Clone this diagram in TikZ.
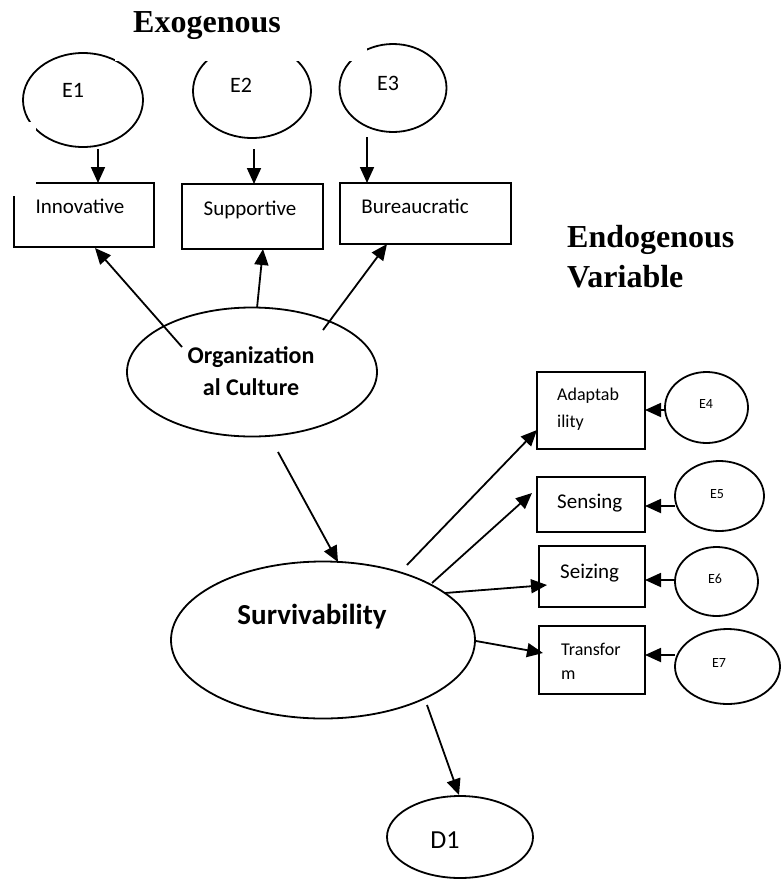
\documentclass[tikz,border=0pt]{standalone}
\usepackage{fontspec}
\setmainfont{Carlito}
\newfontfamily\tnr{Liberation Serif}
\usetikzlibrary{shapes.geometric,arrows.meta}
\newcommand\myfs[1]{\fontsize{#1}{#1}\selectfont}
\begin{document}
\begin{tikzpicture}[x=1pt,y=-1pt,
  ell/.style={draw, ellipse, line width=1.8pt, inner sep=0pt},
  box/.style={draw, rectangle, line width=1.8pt, inner sep=0pt},
  arr/.style={line width=1.8pt, -{Triangle[length=16pt,width=14pt]}},
  lab/.style={inner sep=0pt, anchor=base},
  labl/.style={inner sep=0pt, anchor=base west},
  title/.style={inner sep=0pt, anchor=base west, font=\tnr\bfseries\myfs{32}}]
\useasboundingbox (0,0) rectangle (781,879);

% error ellipses, top
\node[ell, minimum width=120pt, minimum height=94pt] (E1) at (83,100) {};
\node[ell, minimum width=118pt, minimum height=94pt] (E2) at (252,91) {};
\node[ell, minimum width=107pt, minimum height=88pt] (E3) at (393,88) {};

% indicator boxes, top
\node[box, minimum width=140pt, minimum height=64pt] (Inn) at (84,215) {};
\node[box, minimum width=141pt, minimum height=65pt] (Sup) at (252.5,216.5) {};
\node[box, minimum width=171pt, minimum height=61pt] (Bur) at (425.5,213.5) {};

% white covers as in the source
\fill[white] (115,0) rectangle (367,61);
\fill[white] (0,122) rectangle (36,196);

\node[lab, font=\tnr\bfseries\myfs{32}] (tExo) at (207,32) {Exogenous};
\node[title] (tEndo1) at (567,247) {Endogenous};
\node[title] (tEndo2) at (567,287) {Variable};

\node[lab, font=\myfs{22}] (tE1) at (73,97) {E1};
\node[lab, font=\myfs{22}] (tE2) at (241,92) {E2};
\node[lab, font=\myfs{22}] (tE3) at (388,90) {E3};

\node[lab, font=\myfs{21}] (tInn) at (80,213) {Innovative};
\node[lab, font=\myfs{21}] (tSup) at (250,215) {Supportive};
\node[lab, font=\myfs{21}] (tBur) at (415,213) {Bureaucratic};

% latent variables
\node[ell, minimum width=250pt, minimum height=129pt] (OC) at (252,372) {};
\node[lab, font=\bfseries\myfs{24}] (tOC1) at (251,363) {Organization};
\node[lab, font=\bfseries\myfs{24}] (tOC2) at (251,395) {al Culture};

\node[ell, minimum width=304pt, minimum height=157pt] (SV) at (323,640) {};
\node[lab, font=\bfseries\myfs{29}] (tSV) at (312,624) {Survivability};

\node[ell, minimum width=146pt, minimum height=82pt] (D1) at (460,837) {};
\node[lab, font=\myfs{26}] (tD1) at (445,848) {D1};

% right indicator boxes
\node[box, minimum width=108pt, minimum height=77pt] (Ada) at (591,410.5) {};
\node[box, minimum width=108pt, minimum height=55pt] (Sen) at (591,504.5) {};
\node[box, minimum width=106pt, minimum height=61pt] (Sei) at (592,576.5) {};
\node[box, minimum width=106pt, minimum height=68pt] (Tra) at (592,660) {};

\node[labl, font=\myfs{18}] (tAda1) at (557,400) {Adaptab};
\node[labl, font=\myfs{18}] (tAda2) at (557,427) {ility};
\node[labl, font=\myfs{21}] (tSen) at (557,508) {Sensing};
\node[labl, font=\myfs{21}] (tSei) at (560,578) {Seizing};
\node[labl, font=\myfs{18}] (tTra1) at (561,655) {Transfor};
\node[labl, font=\myfs{18}] (tTra2) at (561,679) {m};

% right error ellipses
\node[ell, minimum width=83pt, minimum height=71pt] (E4) at (706.5,407.5) {};
\node[ell, minimum width=89pt, minimum height=70pt] (E5) at (719.5,496) {};
\node[ell, minimum width=83pt, minimum height=69pt] (E6) at (716.5,581.5) {};
\node[ell, minimum width=105pt, minimum height=75pt] (E7) at (727.5,666.5) {};
\node[lab, font=\myfs{14}] (tE4) at (706,408) {E4};
\node[lab, font=\myfs{14}] (tE5) at (717,498) {E5};
\node[lab, font=\myfs{14}] (tE6) at (715,583) {E6};
\node[lab, font=\myfs{14}] (tE7) at (719,667) {E7};

% connector ends
\coordinate (e1s) at (98,149);   \coordinate (inn-t) at (98,183);
\coordinate (e2s) at (254,149);  \coordinate (sup-t) at (254,184);
\coordinate (e3s) at (367,137);  \coordinate (bur-t) at (367,183);
\coordinate (oc1) at (182,347);  \coordinate (inn-b) at (95,248);
\coordinate (oc2) at (257,308);  \coordinate (sup-b) at (263,249);
\coordinate (oc3) at (323,330);  \coordinate (bur-b) at (387,244);
\coordinate (oc4) at (278,452);  \coordinate (sv-t) at (338,562);
\coordinate (sv1) at (407,565);  \coordinate (ada-l) at (537,430);
\coordinate (sv2) at (432,583);  \coordinate (sen-l) at (532,493);
\coordinate (sv3) at (445,593);  \coordinate (sei-l) at (547,585);
\coordinate (sv4) at (476,641);  \coordinate (tra-l) at (543,653);
\coordinate (sv5) at (427,705);  \coordinate (d1-t) at (459,795);
\coordinate (e4w) at (665,410);  \coordinate (ada-r) at (645,410);
\coordinate (e5w) at (675,506);  \coordinate (sen-r) at (645,506);
\coordinate (e6w) at (675,580);  \coordinate (sei-r) at (645,580);
\coordinate (e7w) at (675,655);  \coordinate (tra-r) at (645,655);

\draw[arr] (e1s) -- (inn-t);
\draw[arr] (e2s) -- (sup-t);
\draw[arr] (e3s) -- (bur-t);
\draw[arr] (oc1) -- (inn-b);
\draw[arr] (oc2) -- (sup-b);
\draw[arr] (oc3) -- (bur-b);
\draw[arr] (oc4) -- (sv-t);
\draw[arr] (sv1) -- (ada-l);
\draw[arr] (sv2) -- (sen-l);
\draw[arr] (sv3) -- (sei-l);
\draw[arr] (sv4) -- (tra-l);
\draw[arr] (sv5) -- (d1-t);
\draw[arr] (e4w) -- (ada-r);
\draw[arr] (e5w) -- (sen-r);
\draw[arr] (e6w) -- (sei-r);
\draw[arr] (e7w) -- (tra-r);
\end{tikzpicture}
\end{document}
